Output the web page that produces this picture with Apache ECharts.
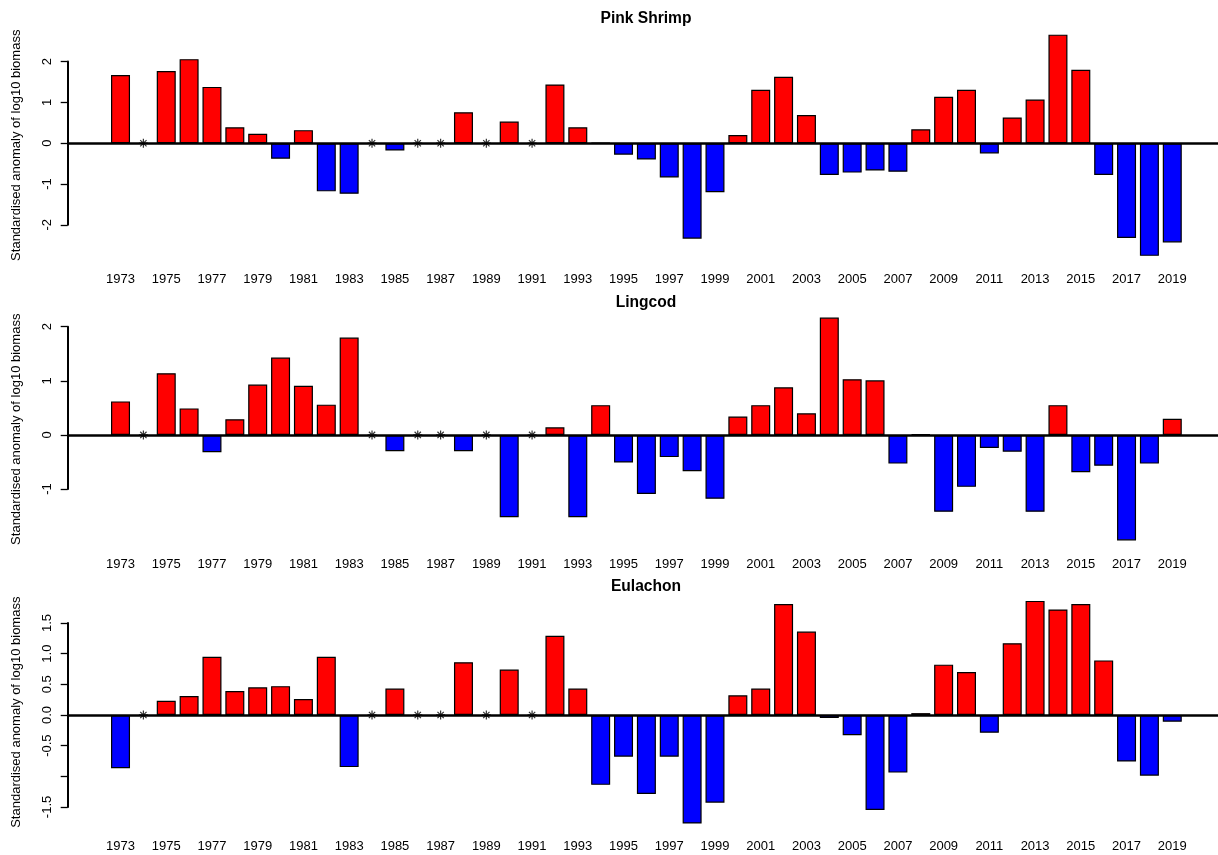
<!DOCTYPE html>
<html>
<head>
<meta charset="utf-8">
<script src="https://cdn.jsdelivr.net/npm/echarts@6/dist/echarts.min.js"></script>
<style>
  html, body { margin: 0; padding: 0; background: #fff; }
  #chart { width: 1218px; height: 855px; }
</style>
</head>
<body>
<div id="chart"></div>
<script>
// Standardised anomaly of log10 biomass, three species, 1973-2019
// null = year not surveyed (drawn as an asterisk on the zero line)
const years = [1973, 1974, 1975, 1976, 1977, 1978, 1979, 1980, 1981, 1982,
  1983, 1984, 1985, 1986, 1987, 1988, 1989, 1990, 1991, 1992,
  1993, 1994, 1995, 1996, 1997, 1998, 1999, 2000, 2001, 2002,
  2003, 2004, 2005, 2006, 2007, 2008, 2009, 2010, 2011, 2012,
  2013, 2014, 2015, 2016, 2017, 2018, 2019];

const pinkShrimp = [1.67, null, 1.77, 2.06, 1.38, 0.39, 0.23, -0.38, 0.32, -1.18,
  -1.24, null, -0.18, null, null, 0.76, null, 0.53, null, 1.44,
  0.39, 0.01, -0.28, -0.40, -0.84, -2.34, -1.20, 0.20, 1.31, 1.63,
  0.69, -0.78, -0.72, -0.67, -0.70, 0.34, 1.14, 1.31, -0.25, 0.63,
  1.07, 2.66, 1.80, -0.78, -2.32, -2.76, -2.43];

const lingcod = [0.62, null, 1.14, 0.49, -0.32, 0.29, 0.93, 1.43, 0.91, 0.56,
  1.80, null, -0.30, null, null, -0.30, null, -1.52, null, 0.14,
  -1.52, 0.55, -0.51, -1.09, -0.41, -0.67, -1.18, 0.34, 0.55, 0.88,
  0.40, 2.17, 1.03, 1.01, -0.53, 0.01, -1.42, -0.96, -0.24, -0.31,
  -1.42, 0.55, -0.69, -0.57, -1.95, -0.53, 0.30];

const eulachon = [-0.87, null, 0.23, 0.31, 0.95, 0.39, 0.45, 0.47, 0.26, 0.95,
  -0.85, null, 0.43, null, null, 0.86, null, 0.74, null, 1.29,
  0.43, -1.14, -0.68, -1.29, -0.68, -1.77, -1.43, 0.32, 0.43, 1.81,
  1.36, -0.05, -0.33, -1.55, -0.94, 0.03, 0.82, 0.70, -0.29, 1.17,
  1.86, 1.72, 1.81, 0.89, -0.76, -0.99, -0.11];

const yearLabels = [1973, 1975, 1977, 1979, 1981, 1983, 1985, 1987, 1989, 1991,
  1993, 1995, 1997, 1999, 2001, 2003, 2005, 2007, 2009, 2011,
  2013, 2015, 2017, 2019];

const panels = [
  { name: 'Pink Shrimp', values: pinkShrimp,
    ticks: [-2, -1, 0, 1, 2], labels: [-2, -1, 0, 1, 2], digits: 0 },
  { name: 'Lingcod', values: lingcod,
    ticks: [-1, 0, 1, 2], labels: [-1, 0, 1, 2], digits: 0 },
  { name: 'Eulachon', values: eulachon,
    ticks: [-1.5, -1, -0.5, 0, 0.5, 1, 1.5], labels: [-1.5, -0.5, 0, 0.5, 1, 1.5], digits: 1 }
];

// layout (pixels) and axis limits, picked to match the original R plot
const layout = [
  { top: 25.8, height: 238.9, ymin: -2.977, ymax: 2.877, titleY: 20 },
  { top: 308.6, height: 241.3, ymin: -2.125, ymax: 2.335, titleY: 304 },
  { top: 592, height: 240.4, ymin: -1.915, ymax: 2.005, titleY: 588 }
];
const LEFT = 67.7;
const xMin = 1970.69, xMax = 2021.0;
const FONT = '"Liberation Sans", Arial, sans-serif';
const asterisk = 'path://M4 0L4 8M0 4L8 4M1.2 1.2L6.8 6.8M1.2 6.8L6.8 1.2';

const option = {
  animation: false,
  backgroundColor: '#fff',
  textStyle: { fontFamily: FONT },
  title: [], grid: [], xAxis: [], yAxis: [], series: []
};

panels.forEach((p, i) => {
  const L = layout[i];
  option.title.push({
    text: p.name, left: 646, top: L.titleY - 9, textAlign: 'center', padding: 0,
    textStyle: { fontFamily: FONT, fontSize: 15.6, fontWeight: 'bold', color: '#000' }
  });
  option.grid.push({ left: LEFT, right: 0, top: L.top, height: L.height, containLabel: false });
  option.xAxis.push({
    type: 'value', gridIndex: i, min: xMin, max: xMax,
    axisLine: { show: false }, axisTick: { show: false }, splitLine: { show: false },
    axisLabel: {
      customValues: yearLabels, margin: 8, color: '#000', fontSize: 13, fontFamily: FONT,
      formatter: v => String(Math.round(v))
    }
  });
  option.yAxis.push({
    type: 'value', gridIndex: i, min: L.ymin, max: L.ymax,
    name: 'Standardised anomaly of log10 biomass', nameLocation: 'middle', nameGap: 45,
    nameTextStyle: { fontSize: 13, color: '#000', fontFamily: FONT },
    axisLine: { show: false }, splitLine: { show: false },
    axisTick: { show: true, customValues: p.ticks, length: 7, lineStyle: { color: '#000', width: 1.3 } },
    axisLabel: {
      customValues: p.labels, rotate: 90, margin: 14, color: '#000', fontSize: 13, fontFamily: FONT,
      formatter: v => Number(v).toFixed(p.digits)
    }
  });

  const bars = [];
  const missing = [];
  years.forEach((y, k) => {
    const v = p.values[k];
    if (v === null) missing.push([y, 0]);
    else bars.push([y, v]);
  });

  option.series.push({
    type: 'bar', xAxisIndex: i, yAxisIndex: i, data: bars, barWidth: 19,
    itemStyle: {
      borderColor: '#000', borderWidth: 1.2,
      color: params => params.value[1] > 0 ? '#ff0000' : '#0000ff'
    },
    markLine: {
      silent: true, symbol: ['none', 'none'], label: { show: false },
      data: [{ yAxis: 0, lineStyle: { color: '#000', width: 2.5, type: 'solid' } }]
    }
  });
  option.series.push({
    type: 'scatter', xAxisIndex: i, yAxisIndex: i, data: missing,
    symbol: asterisk, symbolSize: 9, z: 5,
    itemStyle: { color: 'rgba(0,0,0,0)', borderColor: '#000', borderWidth: 1.2 }
  });
});

// R's axis() line runs only between the outer ticks: an extra y axis per panel
// whose grid covers exactly that span
panels.forEach((p, i) => {
  const L = layout[i];
  const scale = L.height / (L.ymax - L.ymin);
  const lo = p.ticks[0], hi = p.ticks[p.ticks.length - 1];
  const g = option.grid.length;
  option.grid.push({ left: LEFT, right: 0, top: L.top + (L.ymax - hi) * scale, height: (hi - lo) * scale });
  option.xAxis.push({ type: 'value', gridIndex: g, show: false, min: xMin, max: xMax });
  option.yAxis.push({
    type: 'value', gridIndex: g, min: lo, max: hi,
    axisLine: { show: true, onZero: false, lineStyle: { color: '#000', width: 2 } },
    axisTick: { show: false }, axisLabel: { show: false }, splitLine: { show: false }
  });
  option.series.push({ type: 'scatter', xAxisIndex: g, yAxisIndex: g, data: [], silent: true });
});

const chart = echarts.init(document.getElementById('chart'), null, { renderer: 'canvas' });
chart.setOption(option);
</script>
</body>
</html>
